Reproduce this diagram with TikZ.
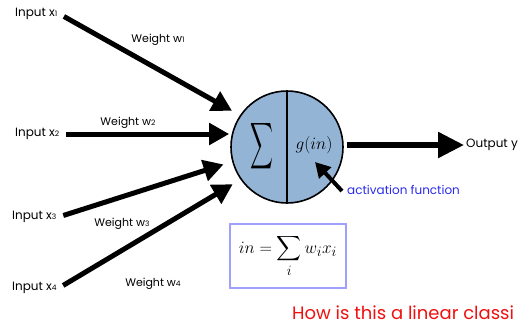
\documentclass[tikz,border=0pt]{standalone}
\usepackage{amsmath}
\usepackage{graphicx}
\usepackage{fontspec}
\setmainfont{Poppins}
\usetikzlibrary{arrows.meta,positioning}
\definecolor{nBlue}{HTML}{94B4D6}
\definecolor{actBlue}{HTML}{2A2AF0}
\definecolor{boxLine}{HTML}{A0A0FF}
\definecolor{qRed}{HTML}{F01010}
\newcommand{\sn}[1]{{\fontsize{7.5}{8}\selectfont #1}}

\begin{document}
\begin{tikzpicture}[x=1pt, y=-1pt, font=\fontsize{12}{14}\selectfont,
  lbl/.style={inner sep=2pt},
  wlbl/.style={inner sep=2pt, font=\fontsize{11}{13}\selectfont},
  wt/.style={-{Triangle[length=20pt,width=21pt]}, line width=5pt},
  unit/.style={circle, draw, line width=1.6pt, fill=nBlue, minimum size=112pt, inner sep=0pt}]
\useasboundingbox (0,0) rectangle (530,325);
% neuron
\node[unit] (neuron) at (287,147) {};
\draw[line width=1.6pt] (neuron.north) -- (neuron.south);
\node (sig) at (262,146) {\resizebox{23pt}{34pt}{$\displaystyle\sum$}};
\node (gin) at (314,145) {\fontsize{16}{18}\selectfont$g(in)$};
% inputs
\node[lbl, anchor=west] (in1) at (13,14) {Input x\sn{1}};
\node[lbl, anchor=west] (in2) at (13,134) {Input x\sn{2}};
\node[lbl, anchor=west] (in3) at (10,217) {Input x\sn{3}};
\node[lbl, anchor=west] (in4) at (10,288) {Input x\sn{4}};
\draw[wt, shorten <=5pt, shorten >=9pt] (in1.east) -- (neuron.146);
\draw[wt, shorten <=5pt] (in2.east) -- ([xshift=-1pt]in2.east -| neuron.west);
\draw[wt, shorten <=5pt, shorten >=9pt] (in3.east) -- (neuron.195);
\draw[wt, shorten <=5pt, shorten >=9pt] (in4.east) -- (neuron.215);
\node[wlbl] (w1) at (158,40) {Weight w\sn{1}};
\node[wlbl] (w2) at (128,123) {Weight w\sn{2}};
\node[wlbl] (w3) at (122,224) {Weight w\sn{3}};
\node[wlbl] (w4) at (153,284) {Weight w\sn{4}};
% output
\node[lbl, anchor=west] (out) at (464,145) {Output y};
\draw[-{Triangle[length=26pt,width=25pt]}, line width=5.5pt, shorten <=3pt] (neuron.east |- out.west) -- (out.west);
% activation
\node[lbl, anchor=west, text=actBlue] (act) at (345,190) {activation function};
\coordinate (gtip) at (315,162);
\draw[-{Triangle[length=15pt,width=16pt]}, line width=4pt] ([xshift=-3pt,yshift=-1pt]act.west) -- (gtip);
% weighted sum
\node[draw=boxLine, line width=1.8pt, minimum width=116pt, minimum height=64pt, inner sep=1pt] (sumbox) at (288,256)
  {\fontsize{19}{22}\selectfont$\displaystyle in=\sum_i w_i x_i$};
\node[anchor=base west, text=qRed, font=\fontsize{18}{21}\selectfont, inner sep=0pt] (quest) at (292,319) {How is this a linear classi};
\end{tikzpicture}
\end{document}
